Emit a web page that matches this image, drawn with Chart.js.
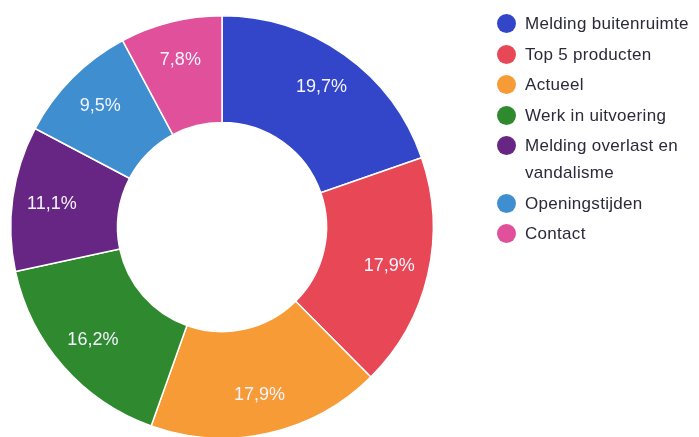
<!DOCTYPE html>
<html>
<head>
<meta charset="utf-8">
<script src="https://cdn.jsdelivr.net/npm/chart.js@4.4.0/dist/chart.umd.min.js"></script>
<style>
    html, body { margin: 0; padding: 0; background: #fff; }
    #wrap { position: relative; width: 699px; height: 437px; overflow: hidden; }
    #chart { position: absolute; left: 0; top: 0; }
    #legend { position: absolute; left: 497px; top: 10px; width: 202px; }
    #legend ul { list-style: none; margin: 0; padding: 0; }
    #legend li { display: flex; align-items: flex-start; margin-bottom: 3.5px;
        font-family: "Liberation Sans", Arial, sans-serif; font-size: 17px; letter-spacing: 0.3px;
        line-height: 27px; color: #2a2a3a; }
    #legend .dot { flex: none; width: 19px; height: 19px; border-radius: 50%; margin: 4px 9px 0 0; }
</style>
</head>
<body>
<div id="wrap">
    <canvas id="chart" width="699" height="440"></canvas>
    <div id="legend"></div>
</div>
<script>
const categories = ['Melding buitenruimte', 'Top 5 producten', 'Actueel', 'Werk in uitvoering',
    'Melding overlast en vandalisme', 'Openingstijden', 'Contact'];
const shares = [19.7, 17.9, 17.9, 16.2, 11.1, 9.5, 7.8];
const sliceColors = ['#3346c9', '#e84756', '#f79b36', '#2f8a2f', '#682684', '#3f8ed0', '#e0509b'];

// percentages inside each slice
const sliceLabels = {
    id: 'sliceLabels',
    afterDatasetsDraw(chart) {
        const ctx = chart.ctx;
        const meta = chart.getDatasetMeta(0);
        ctx.save();
        ctx.font = '18px "Liberation Sans", Arial, sans-serif';
        ctx.fillStyle = '#f4f4ff';
        ctx.textAlign = 'center';
        ctx.textBaseline = 'middle';
        meta.data.forEach((arc, i) => {
            const p = arc.getProps(['startAngle', 'endAngle', 'innerRadius', 'outerRadius', 'x', 'y'], true);
            const mid = (p.startAngle + p.endAngle) / 2;
            const r = p.innerRadius + (p.outerRadius - p.innerRadius) * 0.63;
            const label = shares[i].toFixed(1).replace('.', ',') + '%';
            ctx.fillText(label, p.x + Math.cos(mid) * r, p.y + Math.sin(mid) * r);
        });
        ctx.restore();
    }
};

// legend as html so the long label can wrap
const htmlLegend = {
    id: 'htmlLegend',
    afterUpdate(chart) {
        const box = document.getElementById('legend');
        box.innerHTML = '';
        const ul = document.createElement('ul');
        const items = chart.options.plugins.legend.labels.generateLabels(chart);
        items.forEach(item => {
            const li = document.createElement('li');
            const dot = document.createElement('span');
            dot.className = 'dot';
            dot.style.background = item.fillStyle;
            const txt = document.createElement('span');
            txt.textContent = item.text;
            li.appendChild(dot);
            li.appendChild(txt);
            ul.appendChild(li);
        });
        box.appendChild(ul);
    }
};

new Chart(document.getElementById('chart'), {
    type: 'doughnut',
    data: {
        labels: categories,
        datasets: [{
            data: shares,
            backgroundColor: sliceColors,
            borderColor: '#ffffff',
            borderWidth: 1.5
        }]
    },
    options: {
        responsive: false,
        animation: false,
        cutout: '49.5%',
        layout: {padding: {left: 10, right: 265, top: 14, bottom: 0}},
        plugins: {
            legend: {display: false},
            tooltip: {enabled: false}
        }
    },
    plugins: [sliceLabels, htmlLegend]
});
</script>
</body>
</html>
